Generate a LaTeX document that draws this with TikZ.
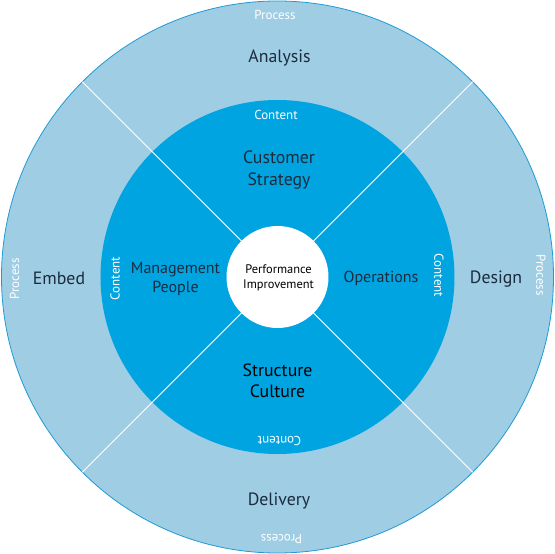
\documentclass[tikz,border=0pt]{standalone}
\usepackage{fontspec}
\setmainfont{PT Sans}
\definecolor{procblue}{HTML}{9FCDE4}
\definecolor{contblue}{HTML}{00A4E1}
\definecolor{rimblue}{HTML}{1E9BD7}
\definecolor{inktext}{HTML}{1B2B3E}
\begin{document}
\begin{tikzpicture}
      [x=1pt,y=1pt,
      ring/.style={circle,inner sep=0pt,outer sep=0pt},
      big label/.style={font=\fontsize{17.8}{22}\selectfont,color=inktext,align=center},
      mid label/.style={font=\fontsize{16}{19}\selectfont,color=inktext,align=center},
      tag label/.style={font=\fontsize{13}{15}\selectfont,color=white},
      divider/.style={draw=white,line width=0.8pt}]
      \useasboundingbox (-277.5,-277) rectangle (277.5,277);
      % rings
      \node[ring,fill=procblue,draw=rimblue,line width=0.8pt,minimum size=552pt] (rim) at (0,0) {};
      \node[ring,fill=contblue,minimum size=354pt] (mid) at (0,0) {};
      \node[ring,fill=white,minimum size=102pt] (core) at (0,0) {};
      % dividers
      \foreach \a in {45,135,225,315}
        \path[divider] (core.\a) -- (rim.\a);
      % process ring
      \node[tag label] (ptop) at (-2.5,262) {Process};
      \node[tag label,rotate=-90] (pright) at (263.5,2) {Process};
      \node[tag label,rotate=180] (pbottom) at (4,-262) {Process};
      \node[tag label,rotate=90] (pleft) at (-263,-2) {Process};
      \node[big label] (analysis) at (2,219.5) {Analysis};
      \node[big label] (design) at (218.5,-2) {Design};
      \node[big label] (delivery) at (1.5,-224.5) {Delivery};
      \node[big label] (embed) at (-218.5,-1) {Embed};
      % content ring
      \node[tag label] (ctop) at (-1.5,162.5) {Content};
      \node[tag label,rotate=-90] (cright) at (161.5,1.5) {Content};
      \node[tag label,rotate=180] (cbottom) at (2,-164) {Content};
      \node[tag label,rotate=90] (cleft) at (-162.5,-1.5) {Content};
      \node[big label] (customer) at (1.5,106.5) {Customer\\Strategy};
      \node[mid label] (operations) at (103.5,-1.5) {Operations};
      \node[big label,color=black,font=\fontsize{17.8}{21}\selectfont] (structure) at (0,-104) {Structure\\Culture};
      \node[mid label] (management) at (-102,-2) {Management\\People};
      % centre
      \node[font=\fontsize{12.4}{14.5}\selectfont,color=black,align=center] (performance) at (1,-1) {Performance\\Improvement};
\end{tikzpicture}
\end{document}
